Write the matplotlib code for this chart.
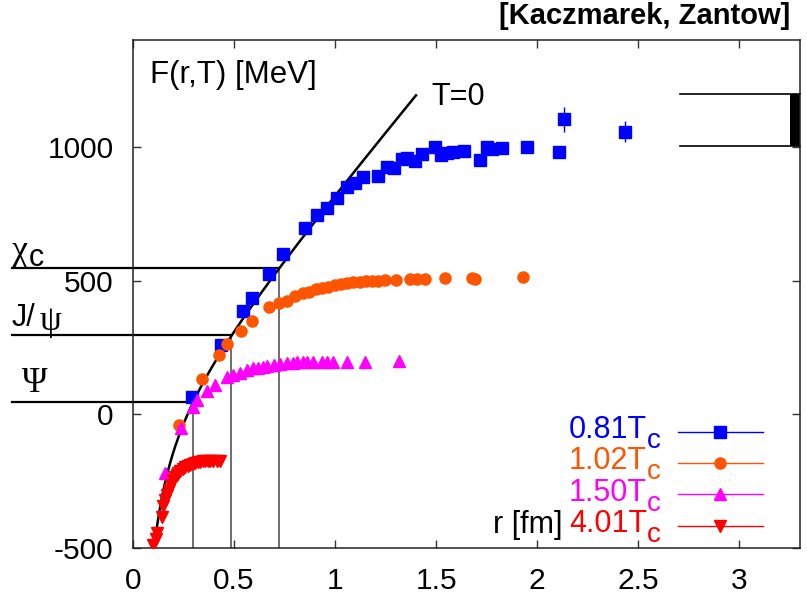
import numpy as np
import matplotlib
matplotlib.use("Agg")
import matplotlib.pyplot as plt

plt.rcParams['font.family'] = ['Liberation Sans', 'DejaVu Sans']
plt.rcParams['axes.unicode_minus'] = False

# --- free energy data, F(r,T) in MeV vs r in fm ---
r_081 = [0.291, 0.434, 0.543, 0.591, 0.675, 0.744, 0.851, 0.912, 0.962, 1.008,
         1.058, 1.099, 1.140, 1.214, 1.256, 1.289, 1.330, 1.358, 1.393, 1.429,
         1.492, 1.523, 1.553, 1.582, 1.638, 1.718, 1.751, 1.776, 1.825, 1.949,
         2.106, 2.131, 2.434]
F_081 = [64, 259, 386, 434, 524, 598, 696, 745, 770, 808,
         849, 864, 889, 891, 926, 920, 954, 960, 948, 972,
         999, 970, 976, 982, 985, 951, 1001, 991, 995, 1001,
         982, 1103, 1057]
e_081 = [2, 3, 3, 3, 4, 4, 4, 5, 5, 5,
         5, 5, 6, 12, 6, 6, 7, 7, 7, 7,
         8, 8, 8, 8, 8, 9, 9, 9, 9, 10,
         16, 48, 40]

r_102 = [0.229, 0.340, 0.427, 0.467, 0.533, 0.587, 0.675, 0.724, 0.764, 0.802,
         0.840, 0.873, 0.906, 0.937, 0.967, 0.997, 1.028, 1.058, 1.088, 1.124,
         1.152, 1.182, 1.214, 1.248, 1.300, 1.371, 1.404, 1.446, 1.546, 1.677,
         1.692, 1.932]
F_102 = [-40, 131, 222, 262, 312, 350, 400, 417, 425, 442,
         455, 459, 469, 473, 477, 484, 487, 490, 494, 496,
         497, 499, 500, 502, 502, 506, 506, 507, 509, 511,
         506, 512]

r_150 = [0.157, 0.238, 0.295, 0.318, 0.368, 0.405, 0.464, 0.497, 0.530, 0.563,
         0.596, 0.620, 0.645, 0.665, 0.698, 0.728, 0.764, 0.790, 0.810, 0.843,
         0.863, 0.889, 0.934, 0.958, 0.989, 1.058, 1.149, 1.318]
F_150 = [-221, -52, 26, 53, 88, 110, 138, 147, 156, 166,
         172, 174, 178, 182, 184, 187, 191, 192, 194, 194,
         194, 195, 195, 195, 196, 196, 197, 199]

r_401 = [0.100, 0.114, 0.120, 0.142, 0.150, 0.160, 0.170, 0.180, 0.187, 0.200,
         0.208, 0.216, 0.225, 0.233, 0.245, 0.257, 0.270, 0.282, 0.295, 0.307,
         0.320, 0.332, 0.345, 0.356, 0.370, 0.381, 0.398, 0.414, 0.431]
F_401 = [-489, -468, -445, -383, -343, -320, -302, -283, -264, -246,
         -236, -227, -218, -211, -204, -198, -194, -190, -186, -183,
         -180, -178, -176, -175, -174, -174, -175, -176, -173]

# T=0 Cornell potential  V(r) = -a/r + sigma*r + c
cornell_a = 60.0      # MeV fm
cornell_sigma = 897.0  # MeV / fm
cornell_c = -20.0     # MeV
r_curve_range = (0.09, 1.40)

# quarkonium levels (energy, crossing radius)
level_F = [547, 297, 47]
level_r = [0.724, 0.485, 0.2985]

# open-charm threshold band
band_F = (1005, 1197)

series = [
    (r_081, F_081, e_081, 's', '#0000ff', "0.81T"),
    (r_102, F_102, None, 'o', '#ff5500', "1.02T"),
    (r_150, F_150, None, '^', '#ff00ff', "1.50T"),
    (r_401, F_401, None, 'v', '#ff0000', "4.01T"),
]

fig = plt.figure(figsize=(8.07, 5.98), dpi=100)
ax = fig.add_axes([133/807, 1-548/598, 667/807, 508/598])
ax.set_xlim(0, 3.3)
ax.set_ylim(-500, 1400)

# vertical drop lines and level lines
for F, r in zip(level_F, level_r):
    ax.plot([r, r], [-500, F], color='#555555', lw=1.2, zorder=1)
    ax.plot([-0.6, r], [F, F], color='black', lw=1.6, clip_on=False, zorder=1)

# T=0 curve
rr = np.linspace(r_curve_range[0], r_curve_range[1], 400)
ax.plot(rr, -cornell_a/rr + cornell_sigma*rr + cornell_c, color='black', lw=1.8, zorder=3)

# data
for r, F, e, m, col, lab in series:
    if e is not None:
        ax.errorbar(r, F, yerr=e, fmt='none', ecolor=col, elinewidth=1, zorder=4)
    ax.plot(r, F, linestyle='none', marker=m, color=col, ms=8, mec=col, zorder=5)

# threshold band
ax.plot([2.708, 3.3], [band_F[1]]*2, color='black', lw=1.2, clip_on=False)
ax.plot([2.708, 3.3], [band_F[0]]*2, color='black', lw=1.2, clip_on=False)
ax.fill_between([3.251, 3.3], band_F[0], band_F[1], color='black', lw=0)

# legend
leg_y = [0.229, 0.168, 0.106, 0.044]
sub_dy = 10/508
for (r, F, e, m, col, lab), y in zip(series, leg_y):
    ax.plot([0.817, 0.9445], [y, y], color=col, lw=1, transform=ax.transAxes, clip_on=False)
    ax.plot([0.880], [y], marker=m, color=col, ms=8, transform=ax.transAxes, clip_on=False)
    ax.text(0.7705, y - 0.013, lab, color=col, fontsize=22,
            ha='right', va='baseline', transform=ax.transAxes)
    ax.text(0.7705, y - 0.013 - sub_dy, "c", color=col, fontsize=20,
            ha='left', va='baseline', transform=ax.transAxes)

# texts
ax.text(0.0255, 0.931, "F(r,T) [MeV]", fontsize=22.5, va='center', ha='left', transform=ax.transAxes)
ax.text(0.448, 0.888, "T=0", fontsize=22, va='center', ha='left', transform=ax.transAxes)
ax.text(0.539, 0.045, "r [fm]", fontsize=22, va='center', ha='left', transform=ax.transAxes)
fig.text(790/807, 1-16/598, "[Kaczmarek, Zantow]", fontsize=21, fontweight='bold',
         family=['Liberation Sans Narrow', 'Liberation Sans'], ha='right', va='center')

# level labels outside axes
fig.text(12/807, 1-252/598, "\u03c7", fontsize=26, family=['Liberation Serif'], va='center', ha='left')
fig.text(29/807, 1-258/598, "c", fontsize=22, va='center', ha='left')
fig.text(12/807, 1-318/598, "J/", fontsize=22, va='center', ha='left')
fig.text(40/807, 1-321/598, "\u03c8", fontsize=25, family=['Liberation Serif'], va='center', ha='left')
fig.text(22/807, 1-384/598, "\u03a8", fontsize=25, family=['Liberation Serif'], va='center', ha='left')

ax.set_xticks([0, 0.5, 1, 1.5, 2, 2.5, 3])
ax.set_xticklabels(["0", "0.5", "1", "1.5", "2", "2.5", "3"])
ax.set_yticks([-500, 0, 500, 1000])
ax.tick_params(direction='in', length=6, width=1, top=True, right=True,
               labelsize=21.5, pad=14, color='#333333')
for s in ax.spines.values():
    s.set_linewidth(1.1)
    s.set_color('#222222')

fig.savefig("out.png", dpi=100)
